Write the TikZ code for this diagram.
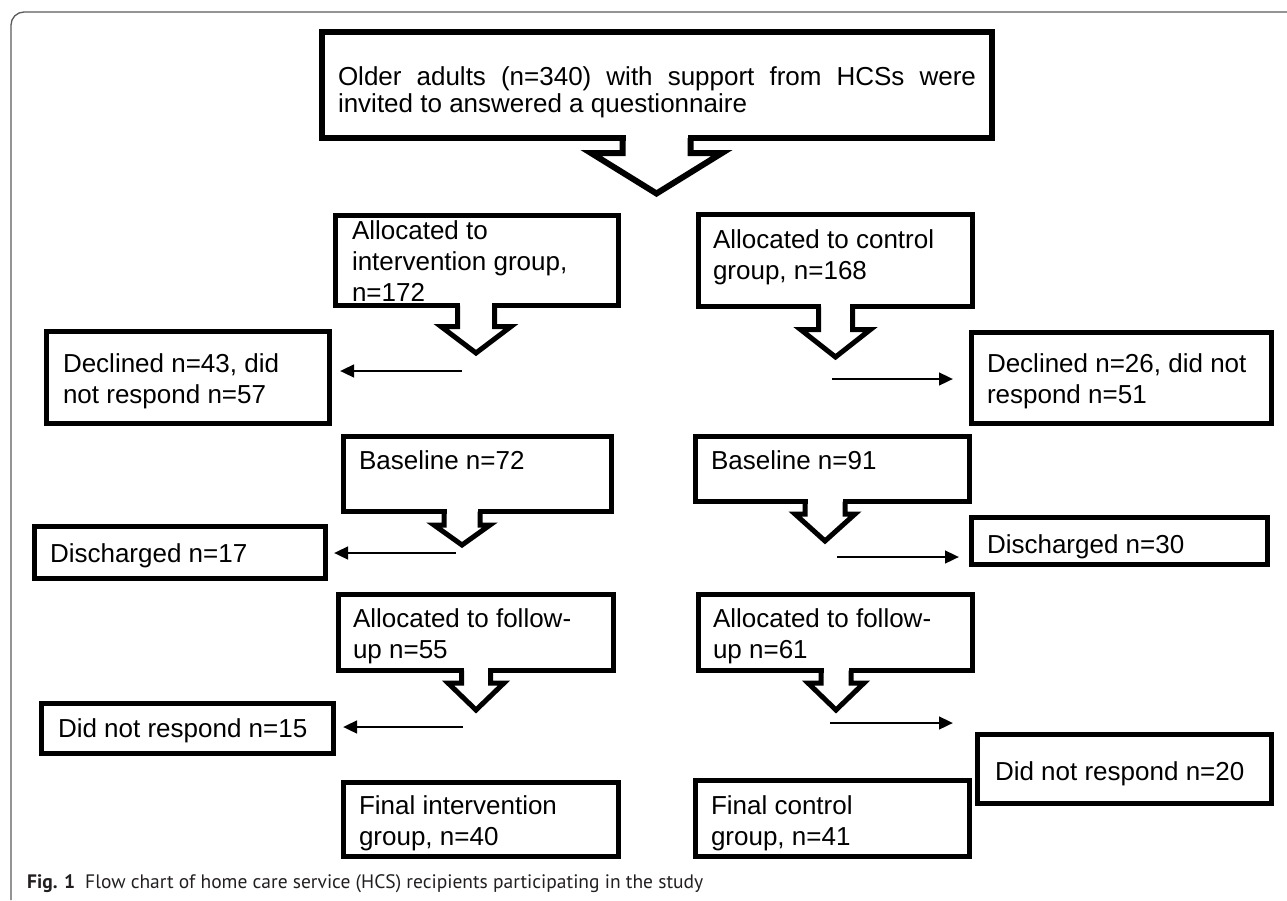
\documentclass[tikz,border=0pt]{standalone}
\usepackage{fontspec}
\setmainfont{Liberation Sans}
\newfontfamily\capfont{PT Sans}
\usetikzlibrary{arrows.meta}
\definecolor{framegray}{RGB}{90,90,90}
\definecolor{captext}{RGB}{35,31,32}
\tikzset{
	flowbox/.style = {
		shape=rectangle,
		draw,
		line width=5pt,
		anchor=north west,
		inner ysep=0pt,
		outer sep=0pt,
		font=\fontsize{26}{31}\selectfont
	},
	blockarrow/.style = {draw, line width=5pt},
	sidearrow/.style = {line width=2.8pt, -{Triangle[length=14pt,width=12.5pt]}},
	frameline/.style = {draw=framegray, line width=1.3pt, rounded corners=13pt},
	caption/.style = {
		anchor=base west,
		inner sep=0pt,
		text=captext,
		font=\capfont\fontsize{19.5}{23}\selectfont
	}
}
\newcommand{\boxtext}[4]{\parbox[t][#2][t]{#1}{\rule{0pt}{#3}#4}}
\newcommand{\calloutarrow}[7][5]{%
	\fill[white] ({#2-#4+#1/2},{#3-#1/2-0.3}) rectangle ({#2+#4-#1/2},{#3+#1/2+0.3});
	\draw[blockarrow, line width=#1pt] ({#2-#4},#3) -- ({#2-#4},#5) -- ({#2-#6},#5) -- (#2,#7)
		-- ({#2+#6},#5) -- ({#2+#4},#5) -- ({#2+#4},#3);
}

\begin{document}
\begin{tikzpicture}[x=1pt, y=-1pt]
	\useasboundingbox (0,0) rectangle (1287,900);
	\draw[frameline] (11,900) |- (1287,12);

	\node[flowbox, line width=6pt, inner xsep=16pt, font=\fontsize{26}{27}\selectfont] (invited) at (322,32)
		{\boxtext{638pt}{106pt}{53pt}{\tolerance=9999 Older adults (n=340) with support from HCSs were\linebreak invited to answered a questionnaire}};

	\node[flowbox, inner xsep=16.5pt] (alloci) at (335.5,215.5) {\boxtext{250pt}{90pt}{23.5pt}{Allocated to\\intervention group,\\n=172}};
	\node[flowbox, inner xsep=16.5pt] (decli) at (46.5,331.5) {\boxtext{250pt}{92pt}{40.5pt}{Declined n=43, did\\not respond n=57}};
	\node[flowbox, inner xsep=15.5pt] (basei) at (343.5,436.5) {\boxtext{237pt}{75pt}{32.5pt}{Baseline n=72}};
	\node[flowbox, inner xsep=15.5pt] (disci) at (34.5,526.5) {\boxtext{260pt}{52pt}{35.5pt}{Discharged n=17}};
	\node[flowbox, inner xsep=14.5pt] (followi) at (338.5,594.5) {\boxtext{246pt}{76pt}{32.5pt}{Allocated to follow-\\up n=55}};
	\node[flowbox, inner xsep=16.5pt] (noresi) at (41.5,703.5) {\boxtext{259pt}{50pt}{33.5pt}{Did not respond n=15}};
	\node[flowbox, inner xsep=15.5pt] (finali) at (343.5,782.5) {\boxtext{244pt}{74pt}{31.5pt}{Final intervention\\group, n=40}};

	\node[flowbox, inner xsep=14.5pt] (allocc) at (698.5,214.5) {\boxtext{245pt}{92pt}{33.5pt}{Allocated to control\\group, n=168}};
	\node[flowbox, inner xsep=15.5pt] (declc) at (971.5,332.5) {\boxtext{269pt}{91pt}{39.5pt}{Declined n=26, did not\\respond n=51}};
	\node[flowbox, inner xsep=15.5pt] (basec) at (695.5,436.5) {\boxtext{243pt}{65pt}{32.5pt}{Baseline n=91}};
	\node[flowbox, inner xsep=15.5pt] (discc) at (971.5,517.5) {\boxtext{265pt}{47pt}{35.5pt}{Discharged n=30}};
	\node[flowbox, inner xsep=14.5pt] (followc) at (698.5,594.5) {\boxtext{245pt}{76pt}{32.5pt}{Allocated to follow-\\up n=61}};
	\node[flowbox, inner xsep=17.5pt] (noresc) at (977.5,734.5) {\boxtext{259pt}{69pt}{45.5pt}{Did not respond n=20}};
	\node[flowbox, inner xsep=15.5pt] (finalc) at (695.5,780.5) {\boxtext{243pt}{76pt}{33.5pt}{Final control\\group, n=41}};

	\calloutarrow[6]{656.5}{138}{34}{153}{65.5}{193.5}
	\calloutarrow{476}{305.5}{18.5}{326.5}{35}{353}
	\calloutarrow{835.5}{306.5}{17}{329.5}{35}{357}
	\calloutarrow{462}{511.5}{18}{525}{28}{545}
	\calloutarrow{825}{501.5}{20}{514}{30}{541}
	\calloutarrow{476}{670.5}{14.5}{683}{28}{710}
	\calloutarrow{836}{670.5}{15}{683}{28}{710}

	\coordinate (fromalloci) at (462,371);
	\coordinate (frombasei) at (456,553);
	\coordinate (fromfollowi) at (463,727);
	\coordinate (fromallocc) at (832,379);
	\coordinate (frombasec) at (837,557);
	\coordinate (fromfollowc) at (830,723);
	\draw[sidearrow, shorten >=10.5pt] (fromalloci) -- (fromalloci -| decli.east);
	\draw[sidearrow, shorten >=8.5pt] (frombasei) -- (frombasei -| disci.east);
	\draw[sidearrow, shorten >=9.5pt] (fromfollowi) -- (fromfollowi -| noresi.east);
	\draw[sidearrow, shorten >=18.5pt] (fromallocc) -- (fromallocc -| declc.west);
	\draw[sidearrow, shorten >=12.5pt] (frombasec) -- (frombasec -| discc.west);
	\draw[sidearrow, shorten >=24.5pt] (fromfollowc) -- (fromfollowc -| noresc.west);

	\node[caption] (caption) at (27,888) {\textbf{Fig. 1}\hspace{10pt}Flow chart of home care service (HCS) recipients participating in the study};
\end{tikzpicture}
\end{document}
